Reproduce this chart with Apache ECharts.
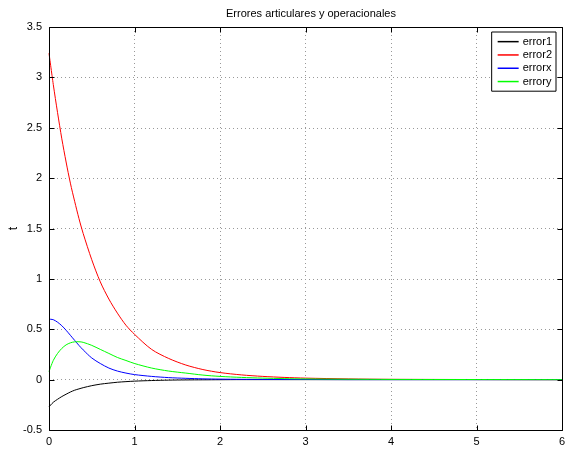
<!DOCTYPE html>
<html><head><meta charset="utf-8">
<script src="https://cdn.jsdelivr.net/npm/echarts@6/dist/echarts.min.js"></script>
<style>html,body{margin:0;padding:0;background:#fff}#c{width:569px;height:449px}</style>
</head><body><div id="c"></div>
<script>
var titleText = 'Errores articulares y operacionales';
var yName = 't';
var xTickVals = [0,1,2,3,4,5,6];
var yTickVals = [-0.5,0,0.5,1,1.5,2,2.5,3,3.5];
var xs = [0,0.05,0.1,0.15,0.2,0.25,0.3,0.35,0.4,0.5,0.6,0.7,0.8,0.9,1.0,1.2,1.4,1.6,1.8,2.0,2.25,2.5,2.75,3,3.5,4,5,6];
var error1 = [-0.27,-0.225,-0.195,-0.168,-0.145,-0.123,-0.105,-0.092,-0.08,-0.06,-0.045,-0.035,-0.026,-0.02,-0.015,-0.009,-0.005,-0.003,-0.002,-0.001,0,0,0,0,0,0,0,0];
var error2 = [3.24,2.93,2.65,2.39,2.16,1.95,1.77,1.60,1.45,1.19,0.97,0.80,0.66,0.54,0.45,0.30,0.21,0.145,0.10,0.07,0.047,0.032,0.022,0.015,0.007,0.003,0.001,0];
var errorx = [0.60,0.595,0.57,0.535,0.49,0.44,0.39,0.34,0.295,0.215,0.16,0.115,0.085,0.065,0.05,0.032,0.02,0.013,0.008,0.005,0.003,0.002,0.001,0.001,0,0,0,0];
var errory = [0.08,0.19,0.26,0.31,0.345,0.365,0.375,0.376,0.37,0.34,0.30,0.26,0.22,0.19,0.16,0.115,0.085,0.065,0.045,0.032,0.022,0.015,0.01,0.007,0.004,0.002,0.001,0];
var names = ['error1','error2','errorx','errory'];
var colors = ['#000000','#ff0000','#0000ff','#00ff00'];
var seriesVals = [error1, error2, errorx, errory];

function pairs(v){ return xs.map(function(x,i){ return [x, v[i]]; }); }
var font = 'Liberation Sans, Arial, Helvetica, sans-serif';
var chart = echarts.init(document.getElementById('c'), null, {renderer:'canvas'});
function split(){ return {show:true, lineStyle:{color:'#999', type:[1,3], width:1}}; }
var xMin = xTickVals[0], xMax = xTickVals[xTickVals.length-1];
var yMin = yTickVals[0], yMax = yTickVals[yTickVals.length-1];

function c(v){ return Math.round(v) + 0.5; }
function frameItem(params, api){
  var lb = api.coord([xMin, yMin]), rt = api.coord([xMax, yMax]);
  var L = c(lb[0]), B = c(lb[1]), R = c(rt[0]), T = c(rt[1]);
  var st = {stroke:'#000', lineWidth:1, fill:null};
  var kids = [
    {type:'line', shape:{x1:L, y1:B, x2:R, y2:B}, style:st},
    {type:'line', shape:{x1:L, y1:T, x2:R, y2:T}, style:st},
    {type:'line', shape:{x1:L, y1:T, x2:L, y2:B}, style:st},
    {type:'line', shape:{x1:R, y1:T, x2:R, y2:B}, style:st}
  ];
  xTickVals.forEach(function(v){
    var x = c(api.coord([v, yMin])[0]);
    kids.push({type:'line', shape:{x1:x, y1:B, x2:x, y2:B-5}, style:st});
    kids.push({type:'line', shape:{x1:x, y1:T, x2:x, y2:T+5}, style:st});
  });
  yTickVals.forEach(function(v){
    var y = c(api.coord([xMin, v])[1]);
    kids.push({type:'line', shape:{x1:L, y1:y, x2:L+5, y2:y}, style:st});
    kids.push({type:'line', shape:{x1:R, y1:y, x2:R-5, y2:y}, style:st});
  });
  return {type:'group', children:kids};
}

var series = names.map(function(n,i){
  return {name:n, type:'line', data:pairs(seriesVals[i]), smooth:0.3, symbol:'none',
    lineStyle:{color:colors[i], width:1}, itemStyle:{color:colors[i]}, z:3+i};
});
series.push({name:'frame', type:'custom', data:[[xMin, yMin]], renderItem:frameItem,
  clip:false, silent:true, z:10, tooltip:{show:false}});

chart.setOption({
  animation:false,
  backgroundColor:'#fff',
  title:{text:titleText, left:306, textAlign:'center', top:3,
    textStyle:{fontFamily:font, fontSize:11, fontWeight:'normal', color:'#000'}},
  grid:{left:49, right:7, top:27, bottom:19, containLabel:false, outerBoundsMode:'none'},
  legend:{data:names, orient:'vertical', right:13, top:32, backgroundColor:'#fff',
    borderColor:'#000', borderWidth:1, padding:[3,4,3,6], itemGap:0,
    itemWidth:21, itemHeight:1.5, icon:'rect', z:20,
    textStyle:{fontFamily:font, fontSize:11, color:'#000', lineHeight:13.3, padding:[0,0,0,-1]}},
  xAxis:{type:'value', min:xMin, max:xMax, interval:1, position:'bottom',
     axisLine:{show:false}, axisTick:{show:false},
     splitLine:split(), axisLabel:{fontFamily:font, fontSize:11, color:'#000', margin:6}},
  yAxis:{type:'value', min:yMin, max:yMax, interval:0.5, position:'left',
     axisLine:{show:false}, axisTick:{show:false},
     splitLine:split(),
     axisLabel:{fontFamily:font, fontSize:11, color:'#000', margin:7}},
  series: series
});

var pLB = chart.convertToPixel({seriesIndex:0}, [xMin, yMin]);
var pRT = chart.convertToPixel({seriesIndex:0}, [xMax, yMax]);
chart.setOption({graphic:{elements:[{type:'text', z:10, silent:true, x:pLB[0]-35, y:(pLB[1]+pRT[1])/2, rotation:Math.PI/2,
  style:{text:yName, fill:'#000', font:'12px ' + font, align:'center', verticalAlign:'middle'}}]}});
</script></body></html>
